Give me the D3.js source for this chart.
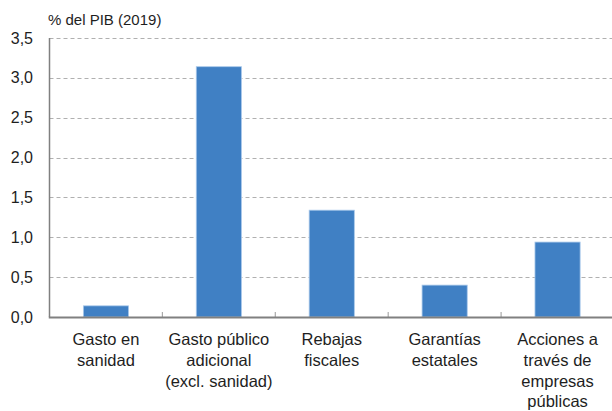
<!DOCTYPE html>
<html>
<head>
<meta charset="utf-8">
<script src="https://cdn.jsdelivr.net/npm/d3@7"></script>
<style>
  body { margin: 0; background: #fff; }
  text { font-family: "Liberation Sans", Arial, sans-serif; fill: #1e1e1e; }
</style>
</head>
<body>
<script>
// data
const categories = [
    ["Gasto en", "sanidad"],
    ["Gasto público", "adicional", "(excl. sanidad)"],
    ["Rebajas", "fiscales"],
    ["Garantías", "estatales"],
    ["Acciones a", "través de", "empresas", "públicas"]
];
const values = [0.14, 3.14, 1.34, 0.40, 0.94];
const yTicks = [0, 0.5, 1, 1.5, 2, 2.5, 3, 3.5];
const unitLabel = "% del PIB (2019)";

const width = 612;
const height = 411;
const plotLeft = 49.5;
const plotRight = 614;
const plotTop = 38;
const plotBottom = 317;

const bar_color = "#4080c4";
const grid_color = "#b0b0b0";
const axis_color = "#808080";

let svg = d3.select("body")
    .append("svg")
    .attr("width", width)
    .attr("height", height);

let keys = categories.map(function (d, i) { return i; });

let x = d3.scaleBand()
    .domain(keys)
    .range([plotLeft, plotRight])
    .padding(0);

let y = d3.scaleLinear()
    .domain([0, 3.5])
    .range([plotBottom, plotTop]);

// dashed gridlines
svg.selectAll(".grid")
    .data(yTicks.filter(function (d) { return d > 0; }))
    .enter()
    .append("line")
    .attr("x1", plotLeft)
    .attr("x2", width)
    .attr("y1", function (d) { return Math.round(y(d)) + 0.5; })
    .attr("y2", function (d) { return Math.round(y(d)) + 0.5; })
    .attr("stroke", grid_color)
    .attr("stroke-width", 1)
    .attr("stroke-dasharray", "4,3");

// y tick labels
svg.selectAll(".ylab")
    .data(yTicks)
    .enter()
    .append("text")
    .attr("x", 33)
    .attr("y", function (d) { return y(d); })
    .attr("dy", "0.35em")
    .attr("text-anchor", "end")
    .style("font-size", "16px")
    .text(function (d) { return d3.format(".1f")(d).replace(".", ","); });

// unit label
svg.append("text")
    .attr("x", 48)
    .attr("y", 25)
    .style("font-size", "15px")
    .text(unitLabel);

// bars
let barWidth = x.bandwidth() * 0.4;
svg.selectAll(".bar")
    .data(values)
    .enter()
    .append("rect")
    .attr("x", function (d, i) { return x(i) + (x.bandwidth() - barWidth) / 2; })
    .attr("y", function (d) { return y(d); })
    .attr("width", barWidth)
    .attr("height", function (d) { return y(0) - y(d); })
    .attr("fill", bar_color)
    .attr("stroke", "#a9c8ea")
    .attr("stroke-width", 0.8);

// left axis line
svg.append("line")
    .attr("x1", plotLeft).attr("x2", plotLeft)
    .attr("y1", plotTop).attr("y2", plotBottom)
    .attr("stroke", axis_color)
    .attr("stroke-width", 1.5);

// category separators (small ticks above the axis)
svg.selectAll(".sep")
    .data(keys.slice(1))
    .enter()
    .append("line")
    .attr("x1", function (d) { return x(d); })
    .attr("x2", function (d) { return x(d); })
    .attr("y1", plotBottom - 5)
    .attr("y2", plotBottom)
    .attr("stroke", "#aaa")
    .attr("stroke-width", 1.2);

// bottom axis line
svg.append("line")
    .attr("x1", plotLeft - 0.75).attr("x2", width)
    .attr("y1", plotBottom + 0.5).attr("y2", plotBottom + 0.5)
    .attr("stroke", axis_color)
    .attr("stroke-width", 2);

// category labels
let lab = svg.selectAll(".xlab")
    .data(categories)
    .enter()
    .append("text")
    .attr("text-anchor", "middle")
    .style("font-size", "16.5px")
    .attr("transform", function (d, i) {
        return "translate(" + (x(i) + x.bandwidth() / 2) + "," + 345 + ")";
    });

lab.selectAll("tspan")
    .data(function (d) { return d; })
    .enter()
    .append("tspan")
    .attr("x", 0)
    .attr("y", function (d, j) { return j * 20.8; })
    .text(function (d) { return d; });
</script>
</body>
</html>
